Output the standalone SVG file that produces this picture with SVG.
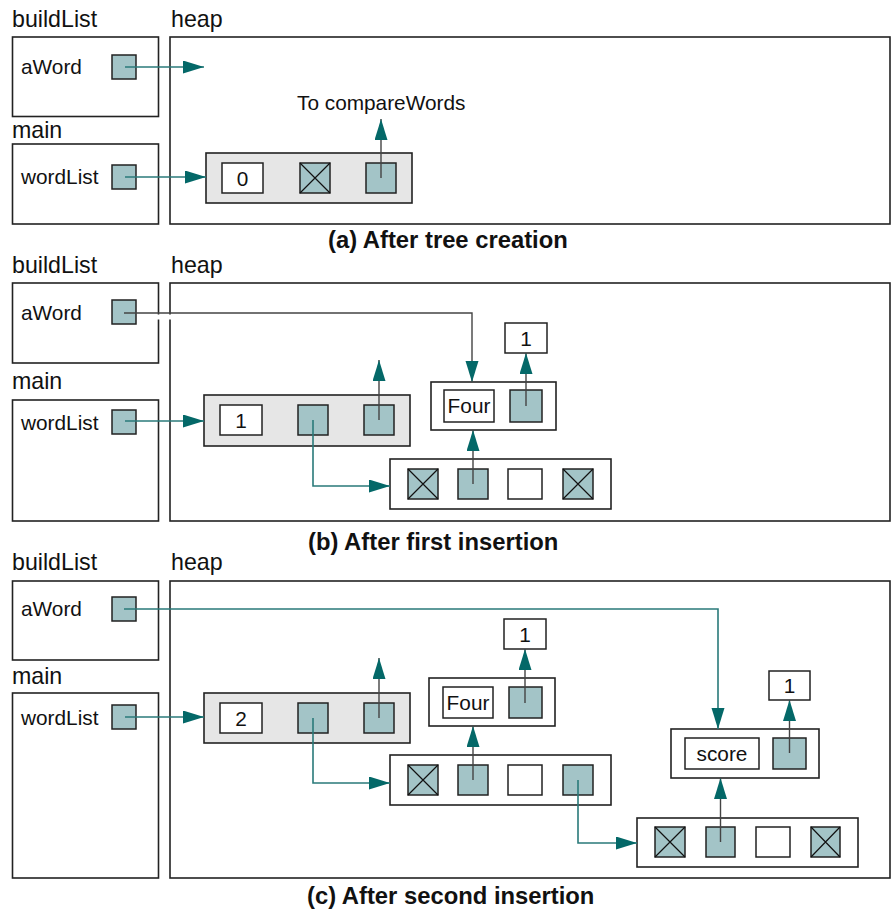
<svg xmlns="http://www.w3.org/2000/svg" width="896" height="910" viewBox="0 0 896 910">
<defs>
<marker id="ah" markerUnits="userSpaceOnUse" markerWidth="22" markerHeight="14" refX="21" refY="6.5" orient="auto">
<path d="M0,0 L21,6.5 L0,13 z" fill="#046868"/>
</marker>
</defs>
<style>
text{font-family:"Liberation Sans",Arial,sans-serif;fill:#111}
.h{font-size:23.2px}
.l{font-size:20.8px}
.c{font-size:23.8px;font-weight:bold}
.m{text-anchor:middle}
.frame{fill:#fff;stroke:#222;stroke-width:1.6}
.gnode{fill:#e6e6e6;stroke:#222;stroke-width:1.6}
.wnode{fill:#fff;stroke:#222;stroke-width:1.6}
.val{fill:#fff;stroke:#222;stroke-width:1.5}
.sq{fill:#a3c4c7;stroke:#222;stroke-width:1.5}
.x{stroke:#111;stroke-width:1.2;fill:none}
.tl{fill:none;stroke:#2a7a7a;stroke-width:1.6;marker-end:url(#ah)}
.dl{fill:none;stroke:#444;stroke-width:1.4;marker-end:url(#ah)}
</style>

<!-- Panel A -->
<g id="a-buildList">
<text class="h" x="12" y="27">buildList</text>
<rect class="frame" x="12.5" y="37" width="146" height="79.5"/>
<text class="l" x="21" y="74">aWord</text>
<rect class="sq" x="112" y="55" width="24" height="24"/>
</g>
<g id="a-main">
<text class="h" x="12" y="138">main</text>
<rect class="frame" x="12.5" y="144" width="146" height="80"/>
<text class="l" x="21" y="184">wordList</text>
<rect class="sq" x="112" y="165" width="24" height="24"/>
</g>
<g id="a-heap">
<text class="h" x="171" y="27">heap</text>
<rect class="frame" x="170" y="37" width="720" height="187"/>
</g>
<g id="a-tree">
<rect class="gnode" x="206" y="153" width="206" height="50"/>
<rect class="val" x="222" y="163" width="41" height="30"/>
<text class="l m" x="242.5" y="186">0</text>
<rect class="sq" x="300" y="163" width="30" height="30"/>
<path class="x" d="M300,163 L330,193 M330,163 L300,193"/>
<rect class="sq" x="366" y="163" width="30" height="30"/>
</g>
<g id="a-label">
<text class="l" x="297" y="110">To compareWords</text>
</g>
<text class="c" x="328" y="248">(a) After tree creation</text>

<!-- Panel B -->
<g id="b-buildList">
<text class="h" x="12" y="273">buildList</text>
<rect class="frame" x="12.5" y="283" width="146" height="80"/>
<text class="l" x="21" y="320">aWord</text>
<rect class="sq" x="112" y="300" width="24" height="24"/>
</g>
<g id="b-main">
<text class="h" x="12" y="389">main</text>
<rect class="frame" x="12.5" y="400" width="146" height="121"/>
<text class="l" x="21" y="430">wordList</text>
<rect class="sq" x="112" y="410" width="24" height="24"/>
</g>
<g id="b-heap">
<text class="h" x="171" y="273">heap</text>
<rect class="frame" x="170" y="283" width="720" height="238"/>
</g>
<g id="b-tree">
<rect class="gnode" x="204" y="395" width="206" height="51"/>
<rect class="val" x="220" y="405" width="42" height="30"/>
<text class="l m" x="241" y="428">1</text>
<rect class="sq" x="298" y="405" width="30" height="30"/>
<rect class="sq" x="364" y="405" width="30" height="30"/>
</g>
<g id="b-list">
<rect class="wnode" x="390" y="459" width="221" height="50"/>
<rect class="sq" x="408" y="469" width="30" height="30"/>
<path class="x" d="M408,469 L438,499 M438,469 L408,499"/>
<rect class="sq" x="458" y="469" width="30" height="30"/>
<rect class="val" x="508" y="469" width="34" height="30"/>
<rect class="sq" x="563" y="469" width="30" height="30"/>
<path class="x" d="M563,469 L593,499 M593,469 L563,499"/>
</g>
<g id="b-four">
<rect class="wnode" x="431" y="382" width="125" height="48"/>
<rect class="val" x="444" y="390" width="50" height="32"/>
<text class="l m" x="469" y="413">Four</text>
<rect class="sq" x="510" y="390" width="32" height="32"/>
</g>
<g id="b-count">
<rect class="val" x="505" y="323" width="42" height="30"/>
<text class="l m" x="526" y="346">1</text>
</g>
<text class="c" x="308" y="550">(b) After first insertion</text>

<!-- Panel C -->
<g id="c-buildList">
<text class="h" x="12" y="570">buildList</text>
<rect class="frame" x="12.5" y="581" width="146" height="79"/>
<text class="l" x="21" y="616">aWord</text>
<rect class="sq" x="112" y="597" width="24" height="24"/>
</g>
<g id="c-main">
<text class="h" x="12" y="684">main</text>
<rect class="frame" x="12.5" y="693" width="146" height="185"/>
<text class="l" x="21" y="725">wordList</text>
<rect class="sq" x="112" y="705" width="24" height="24"/>
</g>
<g id="c-heap">
<text class="h" x="171" y="570">heap</text>
<rect class="frame" x="170" y="581" width="720" height="297"/>
</g>
<g id="c-tree">
<rect class="gnode" x="204" y="693" width="206" height="50"/>
<rect class="val" x="220" y="703" width="42" height="30"/>
<text class="l m" x="241" y="726">2</text>
<rect class="sq" x="298" y="703" width="30" height="30"/>
<rect class="sq" x="364" y="703" width="30" height="30"/>
</g>
<g id="c-list1">
<rect class="wnode" x="390" y="755" width="221" height="50"/>
<rect class="sq" x="408" y="765" width="30" height="30"/>
<path class="x" d="M408,765 L438,795 M438,765 L408,795"/>
<rect class="sq" x="458" y="765" width="30" height="30"/>
<rect class="val" x="508" y="765" width="34" height="30"/>
<rect class="sq" x="563" y="765" width="30" height="30"/>
</g>
<g id="c-four">
<rect class="wnode" x="429" y="678" width="126" height="48"/>
<rect class="val" x="443" y="687" width="50" height="31"/>
<text class="l m" x="468" y="710">Four</text>
<rect class="sq" x="509" y="687" width="33" height="31"/>
</g>
<g id="c-count1">
<rect class="val" x="504" y="619" width="42" height="30"/>
<text class="l m" x="525" y="642">1</text>
</g>
<g id="c-score">
<rect class="wnode" x="671" y="729" width="148" height="49"/>
<rect class="val" x="685" y="738" width="74" height="31"/>
<text class="l m" x="722" y="761">score</text>
<rect class="sq" x="773" y="738" width="33" height="31"/>
</g>
<g id="c-count2">
<rect class="val" x="769" y="671" width="41" height="29"/>
<text class="l m" x="789.5" y="693">1</text>
</g>
<g id="c-list2">
<rect class="wnode" x="637" y="818" width="221" height="49"/>
<rect class="sq" x="655" y="827" width="30" height="30"/>
<path class="x" d="M655,827 L685,857 M685,827 L655,857"/>
<rect class="sq" x="706" y="827" width="29" height="30"/>
<rect class="val" x="756" y="827" width="34" height="30"/>
<rect class="sq" x="811" y="827" width="29" height="30"/>
<path class="x" d="M811,827 L840,857 M840,827 L811,857"/>
</g>
<text class="c" x="307" y="904">(c) After second insertion</text>

<g id="connectors">
<!-- A -->
<path class="tl" d="M125,67 H204"/>
<path class="tl" d="M125,177 H206"/>
<path class="dl" d="M381,178 V119"/>
<!-- B -->
<rect x="156" y="314.5" width="18" height="5" fill="#fff"/>
<path class="dl" d="M124,313 H472 V382"/>
<path class="tl" d="M125,421 H204"/>
<path class="dl" d="M379,420 V360"/>
<path class="tl" d="M313,420 V486 H390"/>
<path class="dl" d="M473,484 V430"/>
<path class="dl" d="M526,406 V353"/>
<!-- C -->
<path class="tl" d="M124,609 H718 V729"/>
<path class="tl" d="M125,717 H204"/>
<path class="dl" d="M379,718 V658"/>
<path class="tl" d="M313,718 V783 H390"/>
<path class="dl" d="M473,780 V726"/>
<path class="dl" d="M525,703 V649"/>
<path class="tl" d="M578,780 V843 H637"/>
<path class="dl" d="M720.5,842 V778"/>
<path class="dl" d="M789.5,753 V700"/>
</g>
</svg>
